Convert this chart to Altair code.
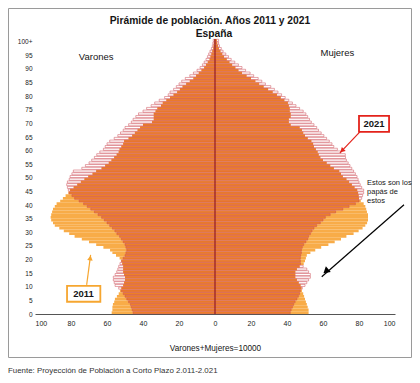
import altair as alt
import pandas as pd

ages = list(range(101))

men_2011 = [57.4, 57.0, 57.0, 56.7, 56.0, 55.6, 54.5, 53.5, 52.8, 52.0,
            51.0, 50.5, 50.0, 50.0, 50.5, 51.0, 51.0, 51.0, 51.5, 52.0,
            53.0, 55.0, 57.0, 58.3, 62.0, 66.0, 70.0, 74.0, 78.0, 81.0,
            84.0, 86.5, 89.0, 90.0, 91.0, 91.3, 91.0, 90.5, 90.0, 89.0,
            88.0, 86.0, 84.5, 83.0, 81.5, 80.5, 78.5, 76.5, 74.5, 72.5,
            70.4, 68.0, 66.0, 63.0, 61.0, 59.0, 57.5, 56.0, 54.6, 53.5,
            53.0, 52.0, 51.0, 50.5, 48.0, 46.0, 44.5, 43.0, 41.6, 40.0,
            35.0, 34.0, 34.0, 34.0, 33.0, 32.0, 30.0, 29.0, 27.0, 25.0,
            23.0, 21.0, 19.5, 18.0, 16.0, 14.0, 12.0, 10.5, 9.0, 7.5,
            6.0, 5.0, 4.0, 3.0, 2.5, 2.0, 1.5, 1.0, 0.8, 0.6, 0.5]

men_2021 = [45.5, 46.0, 46.5, 47.0, 48.0, 49.0, 50.0, 51.0, 52.0, 53.5,
            55.5, 56.0, 56.5, 56.5, 55.5, 54.6, 54.0, 53.5, 52.8, 52.0,
            51.0, 50.0, 49.5, 49.0, 49.5, 50.0, 51.0, 52.0, 53.0, 54.5,
            55.6, 57.0, 58.5, 60.0, 61.5, 63.0, 65.0, 67.0, 69.0, 71.0,
            73.0, 75.5, 78.0, 79.5, 81.0, 81.5, 82.0, 82.4, 82.0, 81.0,
            80.5, 79.5, 78.7, 74.0, 72.0, 70.0, 68.5, 67.0, 65.7, 64.0,
            62.0, 61.0, 60.0, 58.5, 56.0, 54.0, 52.5, 51.0, 50.0, 48.0,
            46.5, 45.5, 44.0, 42.5, 40.0, 38.0, 35.5, 33.5, 31.0, 28.0,
            26.0, 25.0, 23.0, 21.5, 20.0, 18.5, 16.5, 14.0, 12.0, 10.0,
            8.3, 7.0, 6.0, 5.0, 4.2, 3.5, 2.8, 2.0, 1.5, 1.2, 1.0]

women_2011 = [52.0, 52.0, 51.5, 51.0, 50.5, 50.0, 49.5, 49.0, 48.3, 48.0,
              47.5, 46.5, 45.5, 44.6, 44.6, 44.6, 45.5, 47.0, 49.3, 50.0,
              50.5, 51.0, 53.0, 55.7, 59.0, 63.0, 66.5, 70.0, 73.0, 77.0,
              79.8, 82.0, 83.5, 84.5, 85.0, 85.0, 85.0, 84.4, 84.0, 83.5,
              82.6, 81.0, 80.0, 79.8, 79.5, 79.0, 77.5, 76.0, 74.5, 73.0,
              71.0, 70.0, 69.0, 66.0, 64.0, 62.0, 60.0, 58.5, 57.6, 57.0,
              56.0, 55.0, 54.5, 53.5, 51.5, 50.0, 49.0, 48.3, 47.0, 42.0,
              41.0, 41.0, 42.0, 42.0, 41.5, 41.5, 41.0, 40.5, 38.5, 36.5,
              34.4, 32.0, 29.5, 27.0, 24.5, 22.4, 20.0, 17.5, 15.0, 13.0,
              11.3, 9.5, 8.0, 6.5, 5.0, 4.0, 3.0, 2.2, 1.6, 1.2, 1.0]

women_2021 = [41.8, 42.3, 43.0, 43.7, 44.5, 45.5, 46.3, 47.0, 47.4, 48.5,
              50.0, 51.0, 52.0, 53.0, 53.0, 52.0, 51.0, 49.0, 47.5, 47.4,
              47.4, 47.6, 48.0, 48.0, 48.5, 49.3, 50.5, 51.5, 52.0, 53.0,
              53.9, 55.0, 56.5, 58.5, 60.0, 61.3, 64.0, 67.0, 71.0, 74.5,
              78.0, 80.0, 81.5, 82.0, 82.6, 82.6, 81.5, 80.7, 80.0, 79.5,
              78.9, 78.0, 77.0, 76.0, 75.0, 74.0, 73.0, 72.5, 72.4, 70.0,
              68.0, 66.0, 65.0, 63.5, 62.0, 60.5, 59.0, 57.5, 56.5, 55.0,
              53.5, 52.5, 51.5, 50.5, 49.0, 47.0, 45.0, 43.0, 41.0, 39.0,
              37.0, 35.0, 33.0, 31.0, 28.0, 26.0, 24.0, 21.5, 19.5, 17.0,
              15.0, 13.0, 11.0, 9.0, 7.5, 6.0, 4.5, 3.5, 2.5, 2.0, 2.0]

x_ticks = [-100, -80, -60, -40, -20, 0, 20, 40, 60, 80, 100]
y_ticks = list(range(0, 101, 5))

side_labels = ["Varones", "Mujeres"]
side_label_x = [-66, 68]
side_label_age = [94.5, 96]

title_lines = ["Pirámide de población. Años 2011 y 2021", "España"]
axis_title = "Varones+Mujeres=10000"
footer = "Fuente: Proyección de Población a Corto Plazo 2.011-2.021"
note_text = "Estos son los\npapás de\nestos"

FONT = "Liberation Sans, Arial, sans-serif"
LIGHT = "#F8AC48"
DARK = "#EE8026"
OUTLINE = "#CC4A55"
AXIS = "#555555"
INK = "#151515"

rows = []
for sex, sign, a11, a21 in [("Varones", -1, men_2011, men_2021),
                            ("Mujeres", 1, women_2011, women_2021)]:
    for age, v11, v21 in zip(ages, a11, a21):
        rows.append({"sexo": sex, "edad": age,
                     "p2011": sign * v11, "p2021": sign * v21,
                     "comun": sign * min(v11, v21)})
df = pd.DataFrame(rows)

xs = alt.Scale(domain=[-100, 100], nice=False, zero=False)
ys = alt.Scale(domain=[0, 101], nice=False, zero=False)
xa = alt.Axis(values=x_ticks, labelExpr="abs(datum.value)", grid=False, ticks=False,
              domainColor=AXIS, domainWidth=1, labelFontSize=7, labelFont=FONT,
              labelColor="#222222", labelPadding=5, title=axis_title, titleFont=FONT,
              titleFontSize=8.2, titleFontWeight="normal", titleColor=INK, titlePadding=18)
ya = alt.Axis(values=y_ticks, labelExpr="datum.value == 100 ? '100+' : datum.value",
              grid=False, ticks=False, domain=False, labelFontSize=6.5, labelFont=FONT,
              labelColor="#222222", labelPadding=3, title=None)


def X(f):
    return alt.X(f, scale=xs, axis=xa)


def Y(f):
    return alt.Y(f, scale=ys, axis=ya)


base = alt.Chart(df).transform_calculate(
    cero="0", y0="datum.edad", y1="datum.edad + 1",
    yd0="datum.edad + 0.18", yd1="datum.edad + 0.78",
    yo0="datum.edad + 0.12", yo1="datum.edad + 0.88")

l2011 = base.mark_rect(color=LIGHT).encode(x=X("p2011:Q"), x2="cero:Q", y=Y("y0:Q"), y2="y1:Q")
lcom = base.mark_rect(color=DARK).encode(x=X("comun:Q"), x2="cero:Q", y=Y("yd0:Q"), y2="yd1:Q")
l2021 = base.mark_rect(fill="white", fillOpacity=0, stroke=OUTLINE, strokeWidth=0.5).encode(
    x=X("p2021:Q"), x2="cero:Q", y=Y("yo0:Q"), y2="yo1:Q")

center = alt.Chart(pd.DataFrame({"x": [0], "a": [0], "b": [101]})).mark_rule(
    color="#8B1A1A", strokeWidth=1).encode(x=X("x:Q"), y=Y("a:Q"), y2="b:Q")

sides = alt.Chart(pd.DataFrame({"t": side_labels, "x": side_label_x, "y": side_label_age})).mark_text(
    font=FONT, fontSize=9.5, color=INK).encode(x=X("x:Q"), y=Y("y:Q"), text="t:N")

# annotation boxes
boxes = pd.DataFrame({"t": ["2021", "2011"], "x0": [80, -82.2], "x1": [96.7, -63.7],
                      "y0": [66.9, 4.5], "y1": [72.8, 10.3], "xc": [88.3, -73.0], "yc": [69.8, 7.4],
                      "c": ["#E3231B", "#F6A630"]})
box_rect = alt.Chart(boxes).mark_rect(fill="white", strokeWidth=1.8).encode(
    x=X("x0:Q"), x2="x1:Q", y=Y("y0:Q"), y2="y1:Q", stroke=alt.Stroke("c:N", scale=None))
box_text = alt.Chart(boxes).mark_text(font=FONT, fontSize=9.5, fontWeight="bold", color=INK).encode(
    x=X("xc:Q"), y=Y("yc:Q"), text="t:N")

arrows = pd.DataFrame({"xa": [80.5, 105, -71.3], "ya": [66.9, 40.1, 10.7],
                       "xb": [69.4, 59.3, -69.1], "yb": [59.2, 13.7, 21.7],
                       "hx": [70.6, 61.6, -69.3], "hy": [60.0, 15.7, 20.6],
                       "ang": [225, 229, 8], "sz": [30, 55, 30],
                       "c": ["#E3231B", "#000000", "#F6A630"]})
arrow_lines = alt.Chart(arrows).mark_rule(strokeWidth=1.2).encode(
    x=X("xa:Q"), x2="xb:Q", y=Y("ya:Q"), y2="yb:Q", color=alt.Color("c:N", scale=None))
arrow_heads = alt.Chart(arrows).mark_point(shape="triangle-up", filled=True, opacity=1).encode(
    x=X("hx:Q"), y=Y("hy:Q"), angle=alt.Angle("ang:Q", scale=None),
    size=alt.Size("sz:Q", scale=None), color=alt.Color("c:N", scale=None))

note = alt.Chart(pd.DataFrame({"t": [note_text], "x": [84.5], "y": [49.4]})).mark_text(
    font=FONT, fontSize=7.5, color=INK, align="left", baseline="top", lineBreak="\n",
    lineHeight=9).encode(x=X("x:Q"), y=Y("y:Q"), text="t:N")

frame = alt.Chart(pd.DataFrame({"k": [1]})).mark_rect(
    fill="white", fillOpacity=0, stroke="#9A9A9A", strokeWidth=1).encode(
    x=alt.value(-26.5), x2=alt.value(376.5), y=alt.value(-30.5), y2=alt.value(318.5))

title1 = alt.Chart(pd.DataFrame({"t": [title_lines[0]]})).mark_text(
    font=FONT, fontSize=10.3, fontWeight="bold", color=INK, baseline="middle").encode(
    x=alt.value(175), y=alt.value(-18), text="t:N")
title2 = alt.Chart(pd.DataFrame({"t": [title_lines[1]]})).mark_text(
    font=FONT, fontSize=10.3, fontWeight="bold", color=INK, baseline="middle").encode(
    x=alt.value(179), y=alt.value(-5), text="t:N")

foot = alt.Chart(pd.DataFrame({"t": [footer]})).mark_text(
    font=FONT, fontSize=7.9, color="#333333", align="left", baseline="alphabetic").encode(
    x=alt.value(-27), y=alt.value(334), text="t:N")

chart = alt.layer(frame, l2011, lcom, l2021, center, sides, arrow_lines, arrow_heads,
                  box_rect, box_text, note, title1, title2, foot).properties(
    width=360, height=275,
    padding={"left": 27, "top": 31, "right": 17, "bottom": 61},
    autosize=alt.AutoSizeParams(type="none"),
).configure_view(strokeWidth=0)

chart.save("out.html", embed_options={"renderer": "svg", "actions": False})
